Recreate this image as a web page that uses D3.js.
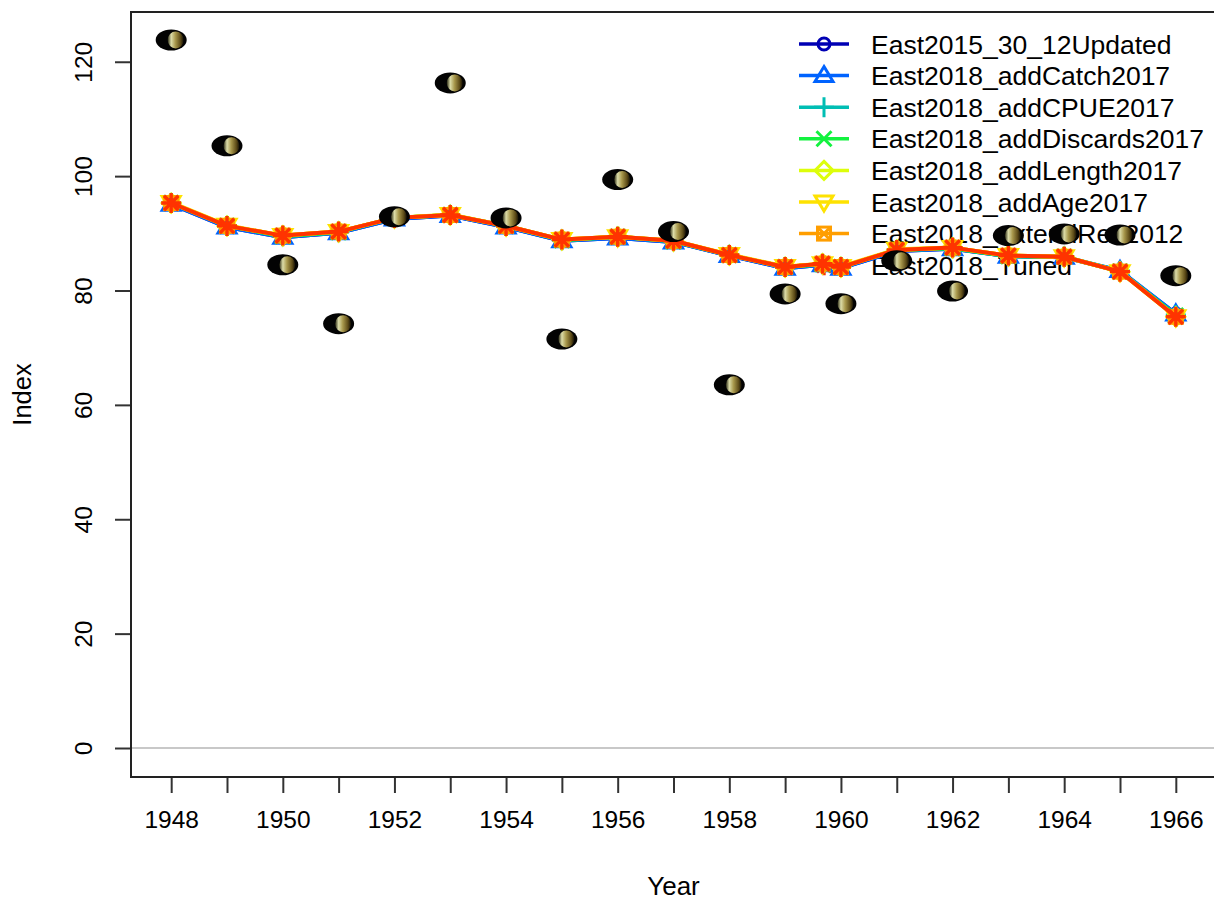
<!DOCTYPE html>
<html>
<head>
<meta charset="utf-8">
<script src="https://cdn.jsdelivr.net/npm/d3@7"></script>
<style>
  html, body { margin: 0; padding: 0; background: #fff; }
  svg text { font-family: Arial, "Liberation Sans", sans-serif; fill: #000; }
</style>
</head>
<body>
<svg id="chart" width="1214" height="901"></svg>
<script>
// ---------- data ----------
const modelNames = [
  "East2015_30_12Updated",
  "East2018_addCatch2017",
  "East2018_addCPUE2017",
  "East2018_addDiscards2017",
  "East2018_addLength2017",
  "East2018_addAge2017",
  "East2018_extendRec2012",
  "East2018_Tuned"
];
const modelColors = ["#0000B4", "#0063FF", "#00BEB4", "#13F23F", "#DDFE0B", "#FEE201", "#FF9E00", "#FF3300"];
const modelShapes = ["circle", "triangle", "plus", "cross", "diamond", "triangleDown", "squareX", "asterisk"];

const fitYears = [1948, 1949, 1950, 1951, 1952, 1953, 1954, 1955, 1956, 1957, 1958, 1959, 1959.67, 1960, 1961, 1962, 1963, 1964, 1965, 1966];
const fitEast2015_30_12Updated = [95.1, 91.1, 89.3, 90.1, 92.5, 93.1, 91.1, 88.7, 89.2, 88.5, 86.1, 83.9, 84.5, 83.9, 86.9, 87.3, 86.0, 85.8, 83.4, 75.9];
const fitEast2018_addCatch2017 = [95.1, 91.1, 89.3, 90.1, 92.5, 93.1, 91.1, 88.7, 89.2, 88.5, 86.1, 83.9, 84.5, 83.9, 86.9, 87.3, 86.0, 85.8, 83.5, 75.9];
const fitEast2018_addCPUE2017 = [95.3, 91.3, 89.5, 90.2, 92.7, 93.2, 91.3, 88.8, 89.4, 88.6, 86.2, 84.1, 84.6, 84.1, 87.1, 87.4, 86.0, 85.9, 83.4, 75.7];
const fitEast2018_addDiscards2017 = [95.3, 91.3, 89.5, 90.2, 92.7, 93.2, 91.3, 88.8, 89.4, 88.6, 86.2, 84.1, 84.6, 84.1, 87.1, 87.4, 86.0, 85.9, 83.3, 75.6];
const fitEast2018_addLength2017 = [95.3, 91.3, 89.6, 90.3, 92.7, 93.2, 91.3, 88.9, 89.4, 88.7, 86.2, 84.1, 84.7, 84.1, 87.1, 87.5, 86.1, 85.9, 83.3, 75.4];
const fitEast2018_addAge2017 = [95.4, 91.4, 89.6, 90.3, 92.7, 93.3, 91.3, 88.9, 89.4, 88.7, 86.3, 84.2, 84.7, 84.2, 87.2, 87.5, 86.1, 85.9, 83.3, 75.4];
const fitEast2018_extendRec2012 = [95.3, 91.3, 89.6, 90.3, 92.7, 93.2, 91.3, 88.9, 89.4, 88.7, 86.2, 84.1, 84.7, 84.1, 87.1, 87.5, 86.1, 85.9, 83.3, 75.4];
const fitEast2018_Tuned = [95.3, 91.3, 89.6, 90.3, 92.7, 93.2, 91.3, 88.9, 89.4, 88.7, 86.2, 84.1, 84.7, 84.1, 87.1, 87.5, 86.1, 85.9, 83.3, 75.4];
const fitSeries = [fitEast2015_30_12Updated, fitEast2018_addCatch2017, fitEast2018_addCPUE2017, fitEast2018_addDiscards2017,
                   fitEast2018_addLength2017, fitEast2018_addAge2017, fitEast2018_extendRec2012, fitEast2018_Tuned];

const obsYears = [1948, 1949, 1950, 1951, 1952, 1953, 1954, 1955, 1956, 1957, 1958, 1959, 1960, 1961, 1962, 1963, 1964, 1965, 1966];
const obsValues = [123.8, 105.3, 84.5, 74.2, 92.9, 116.3, 92.7, 71.5, 99.4, 90.3, 63.5, 79.4, 77.7, 85.2, 79.9, 89.6, 89.9, 89.7, 82.6];

const yTicks = [0, 20, 40, 60, 80, 100, 120];
const xTicks = [1948, 1949, 1950, 1951, 1952, 1953, 1954, 1955, 1956, 1957, 1958, 1959, 1960, 1961, 1962, 1963, 1964, 1965, 1966];
const xTickLabels = [1948, 1950, 1952, 1954, 1956, 1958, 1960, 1962, 1964, 1966];

// ---------- layout ----------
const svg = d3.select("#chart");
const plot = { left: 131, right: 1216, top: 12, bottom: 777 };
const x = d3.scaleLinear().domain([1947.28, 1966.72]).range([plot.left, plot.right]);
const y = d3.scaleLinear().domain([-5.07, 128.7]).range([plot.bottom, plot.top]);

const defs = svg.append("defs");
const grad = defs.append("linearGradient").attr("id", "obsGrad")
  .attr("x1", "0%").attr("x2", "100%").attr("y1", "0%").attr("y2", "0%");
grad.append("stop").attr("offset", "0%").attr("stop-color", "#2a2a14");
grad.append("stop").attr("offset", "22%").attr("stop-color", "#dcdca8");
grad.append("stop").attr("offset", "48%").attr("stop-color", "#a8984c");
grad.append("stop").attr("offset", "80%").attr("stop-color", "#5e4c18");
grad.append("stop").attr("offset", "100%").attr("stop-color", "#120e04");

// zero line
svg.append("line")
  .attr("x1", plot.left).attr("x2", plot.right)
  .attr("y1", y(0)).attr("y2", y(0))
  .attr("stroke", "#c8c8c8").attr("stroke-width", 2);

// axes
const yAxis = d3.axisLeft(y).tickValues(yTicks).tickSize(16).tickSizeOuter(0).tickPadding(0);
const gy = svg.append("g").attr("transform", `translate(${plot.left},0)`).call(yAxis);
gy.select(".domain").remove();
gy.selectAll(".tick line").attr("stroke", "#333").attr("stroke-width", 2);
gy.selectAll(".tick text")
  .attr("font-size", 24.5)
  .attr("transform", "rotate(-90)")
  .attr("x", 0).attr("y", -48)
  .attr("dy", "0.35em")
  .attr("text-anchor", "middle")
  .style("fill", "#000");

const xAxis = d3.axisBottom(x).tickValues(xTicks).tickSize(16).tickSizeOuter(0)
  .tickFormat(d => xTickLabels.includes(d) ? String(d) : "");
const gx = svg.append("g").attr("transform", `translate(0,${plot.bottom})`).call(xAxis);
gx.select(".domain").remove();
gx.selectAll(".tick line").attr("stroke", "#333").attr("stroke-width", 2);
gx.selectAll(".tick text")
  .attr("font-size", 24.5)
  .attr("y", 50).attr("dy", "0.05em")
  .style("fill", "#000");

// frame
svg.append("rect")
  .attr("x", plot.left).attr("y", plot.top)
  .attr("width", plot.right - plot.left).attr("height", plot.bottom - plot.top)
  .attr("fill", "none").attr("stroke", "#222").attr("stroke-width", 2);

// axis titles
svg.append("text").attr("x", (plot.left + plot.right) / 2).attr("y", 886)
  .attr("dy", "0.35em")
  .attr("text-anchor", "middle").attr("font-size", 26).text("Year");
svg.append("text")
  .attr("transform", `translate(31,${(plot.top + plot.bottom) / 2}) rotate(-90)`)
  .attr("text-anchor", "middle").attr("font-size", 25.5).text("Index");

// marker drawing
function drawMarker(g, shape, color, cx, cy) {
  const sw = 3;
  if (shape === "circle") {
    g.append("circle").attr("cx", cx).attr("cy", cy).attr("r", 6)
      .attr("fill", "none").attr("stroke", color).attr("stroke-width", sw);
  } else if (shape === "triangle") {
    g.append("path").attr("d", `M${cx},${cy - 9}L${cx + 9},${cy + 6}L${cx - 9},${cy + 6}Z`)
      .attr("fill", "none").attr("stroke", color).attr("stroke-width", sw);
  } else if (shape === "triangleDown") {
    g.append("path").attr("d", `M${cx},${cy + 9}L${cx + 9},${cy - 6}L${cx - 9},${cy - 6}Z`)
      .attr("fill", "none").attr("stroke", color).attr("stroke-width", sw);
  } else if (shape === "plus") {
    g.append("path").attr("d", `M${cx - 10},${cy}H${cx + 10}M${cx},${cy - 10}V${cy + 10}`)
      .attr("fill", "none").attr("stroke", color).attr("stroke-width", sw);
  } else if (shape === "cross") {
    g.append("path").attr("d", `M${cx - 7.5},${cy - 7.5}L${cx + 7.5},${cy + 7.5}M${cx - 7.5},${cy + 7.5}L${cx + 7.5},${cy - 7.5}`)
      .attr("fill", "none").attr("stroke", color).attr("stroke-width", sw);
  } else if (shape === "diamond") {
    g.append("path").attr("d", `M${cx},${cy - 9}L${cx + 9},${cy}L${cx},${cy + 9}L${cx - 9},${cy}Z`)
      .attr("fill", "none").attr("stroke", color).attr("stroke-width", sw);
  } else if (shape === "squareX") {
    g.append("rect").attr("x", cx - 6.5).attr("y", cy - 6.5).attr("width", 13).attr("height", 13)
      .attr("fill", "none").attr("stroke", color).attr("stroke-width", sw);
    g.append("path").attr("d", `M${cx - 6.5},${cy - 6.5}L${cx + 6.5},${cy + 6.5}M${cx - 6.5},${cy + 6.5}L${cx + 6.5},${cy - 6.5}`)
      .attr("fill", "none").attr("stroke", color).attr("stroke-width", sw);
  } else if (shape === "asterisk") {
    g.append("path").attr("d",
      `M${cx - 10},${cy}H${cx + 10}M${cx},${cy - 10}V${cy + 10}M${cx - 7.2},${cy - 7.2}L${cx + 7.2},${cy + 7.2}M${cx - 7.2},${cy + 7.2}L${cx + 7.2},${cy - 7.2}`)
      .attr("fill", "none").attr("stroke", color).attr("stroke-width", 3.4);
  }
}

// legend (drawn first, data drawn over it)
const legend = svg.append("g");
const legY0 = 44, legStep = 31.6;
modelNames.forEach((name, i) => {
  const ly = legY0 + i * legStep;
  legend.append("line").attr("x1", 799).attr("x2", 849).attr("y1", ly).attr("y2", ly)
    .attr("stroke", modelColors[i]).attr("stroke-width", 3.5);
  drawMarker(legend, modelShapes[i], modelColors[i], 824, ly);
  legend.append("text").attr("x", 871).attr("y", ly).attr("dy", "0.36em")
    .attr("font-size", 26.5).text(name);
});

// model fit lines
const line = d3.line().x((d, i) => x(fitYears[i])).y(d => y(d));
fitSeries.forEach((vals, s) => {
  const g = svg.append("g");
  g.append("path").datum(vals).attr("d", line)
    .attr("fill", "none").attr("stroke", modelColors[s]).attr("stroke-width", 4)
    .attr("stroke-linejoin", "round");
  vals.forEach((v, i) => drawMarker(g, modelShapes[s], modelColors[s], x(fitYears[i]), y(v)));
});

// observed index
const obsG = svg.append("g");
obsValues.forEach((v, i) => {
  const cx = x(obsYears[i]), cy = y(v);
  obsG.append("ellipse").attr("cx", cx).attr("cy", cy).attr("rx", 15.5).attr("ry", 10.5).attr("fill", "#030303");
  obsG.append("ellipse").attr("cx", cx + 4.5).attr("cy", cy).attr("rx", 8).attr("ry", 8.5).attr("fill", "url(#obsGrad)");
});
</script>
</body>
</html>
